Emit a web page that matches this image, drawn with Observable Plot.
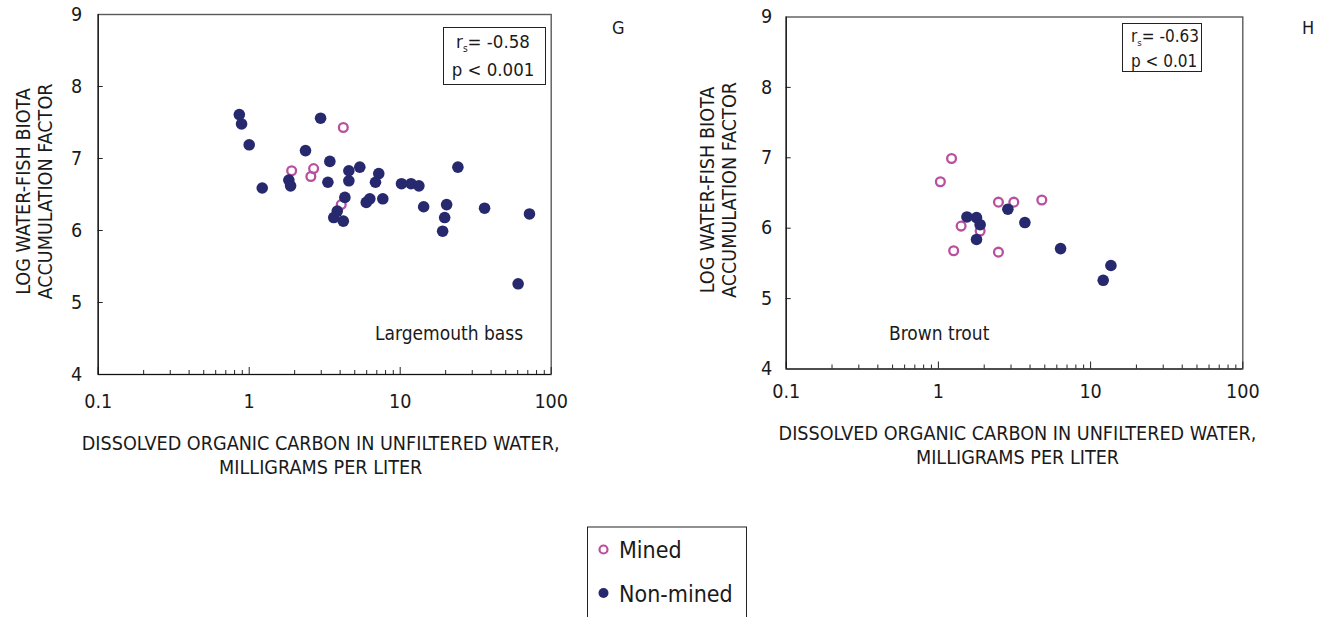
<!DOCTYPE html>
<html><head><meta charset="utf-8">
<script src="https://cdn.jsdelivr.net/npm/d3@7"></script>
<script src="https://cdn.jsdelivr.net/npm/@observablehq/plot@0.6"></script>
<style>
html,body{margin:0;padding:0;background:#fff;}
#wrap{position:relative;width:1324px;height:617px;overflow:hidden;background:#fff;}
.panel{position:absolute;top:0;}
#overlay{position:absolute;left:0;top:0;pointer-events:none;}
</style>
</head><body>
<div id="wrap">
  <div id="left" class="panel" style="left:0"></div>
  <div id="right" class="panel" style="left:662px"></div>
</div>
<script>
const FONT = '"Liberation Sans Narrow","Arial Narrow","DejaVu Sans Condensed",sans-serif';
const NAVY = "#27296f";
const MAGENTA = "#b9509f";

// Panel G — Largemouth bass
const bassNonMinedDOC = [0.86,0.89,1.0,2.97,2.36,1.83,1.88,1.22,3.42,4.57,5.40,7.21,6.86,4.57,3.32,10.2,11.8,13.3,24.1,4.30,3.83,3.63,4.20,5.96,6.29,7.67,14.3,20.3,19.7,19.1,36.2,71.8,60.4];
const bassNonMinedBAF = [7.61,7.48,7.19,7.56,7.11,6.70,6.62,6.59,6.96,6.83,6.88,6.79,6.67,6.69,6.67,6.65,6.65,6.62,6.88,6.46,6.27,6.18,6.13,6.39,6.44,6.44,6.33,6.36,6.18,5.99,6.31,6.23,5.26];
const bassMinedDOC = [4.20,1.91,2.67,2.56,4.07];
const bassMinedBAF = [7.43,6.83,6.86,6.75,6.36];

// Panel H — Brown trout
const troutNonMinedDOC = [1.54,1.78,1.88,1.78,2.86,3.70,6.35,13.6,12.1];
const troutNonMinedBAF = [6.16,6.15,6.05,5.84,6.27,6.08,5.71,5.47,5.26];
const troutMinedDOC = [1.22,1.03,2.48,3.13,4.78,1.41,1.88,1.26,2.48];
const troutMinedBAF = [6.99,6.66,6.37,6.37,6.40,6.03,5.96,5.68,5.66];

const xMajorTicks = [0.1,1,10,100];
const xMinorTicks = [0.2,0.3,0.4,0.5,0.6,0.7,0.8,0.9,2,3,4,5,6,7,8,9,20,30,40,50,60,70,80,90];
const yTicks = [4,5,6,7,8,9];
const yInnerTicks = [5,6,7,8];
const xTitle = "DISSOLVED ORGANIC CARBON IN UNFILTERED WATER,\nMILLIGRAMS PER LITER";
const yTitle = "LOG WATER-FISH BIOTA\nACCUMULATION FACTOR";

const rows = (doc, baf) => doc.map((d, i) => ({doc: d, baf: baf[i]}));

function panel(o) {
  const mined = rows(o.minedDOC, o.minedBAF);
  const non = rows(o.nonDOC, o.nonBAF);
  return Plot.plot({
    width: 662, height: 480,
    marginLeft: o.ml, marginRight: o.mr, marginTop: o.mt, marginBottom: o.mb,
    style: {fontFamily: FONT, fontSize: "19.6px", color: "#1a1a1a", background: "transparent", overflow: "visible"},
    x: {type: "log", domain: [0.1, 100]},
    y: {domain: [4, 9]},
    marks: [
      Plot.frame({stroke: "#5a5a5a", strokeWidth: 1.4}),
      Plot.axisY(yInnerTicks, {tickSize: -5, fill: "none", label: null, stroke: "#222"}),
      Plot.axisY(yTicks, {tickSize: 0, tickPadding: o.padY, label: null, tickFormat: d => String(d), fontSize: 19.6}),
      Plot.axisX(xMajorTicks, {tickSize: -7, fill: "none", label: null, stroke: "#222"}),
      Plot.axisX(xMinorTicks, {tickSize: -4, fill: "none", label: null, stroke: "#222"}),
      Plot.axisX(xMajorTicks, {tickSize: 0, tickPadding: o.padX, label: null, tickFormat: d => String(d), fontSize: 19.6}),
      Plot.ruleX([0.1], {stroke: "#111", strokeWidth: 1.2}),
      Plot.ruleY([4], {stroke: "#111", strokeWidth: 1.2}),
      Plot.text([yTitle], {frameAnchor: "left", rotate: -90, dx: o.yDx, dy: -3, textAnchor: "middle", lineAnchor: "middle", lineHeight: 1.12, fontSize: 19.6, fill: "#1a1a1a"}),
      Plot.text([xTitle], {frameAnchor: "bottom", lineAnchor: "top", dy: o.xDy, dx: o.xDx, lineHeight: 1.25, fontSize: 19.6, fill: "#1a1a1a"}),
      Plot.dot(mined, {x: "doc", y: "baf", r: 4.4, stroke: MAGENTA, strokeWidth: 2.3, fill: "none"}),
      Plot.dot(non, {x: "doc", y: "baf", r: 5.8, fill: NAVY, stroke: "none"})
    ]
  });
}

document.getElementById("left").appendChild(panel({
  minedDOC: bassMinedDOC, minedBAF: bassMinedBAF, nonDOC: bassNonMinedDOC, nonBAF: bassNonMinedBAF,
  ml: 97.7, mr: 111.3, mt: 14, mb: 106, padY: 16, padX: 20, yDx: -64, xDy: 57.7, xDx: -4
}));
document.getElementById("right").appendChild(panel({
  minedDOC: troutMinedDOC, minedBAF: troutMinedBAF, nonDOC: troutNonMinedDOC, nonBAF: troutNonMinedBAF,
  ml: 123.7, mr: 81.7, mt: 16.5, mb: 111.5, padY: 14, padX: 15, yDx: -68, xDy: 53.2, xDx: 3
}));

// Annotations overlay (stat boxes, panel letters, species names, legend)
const ns = "http://www.w3.org/2000/svg";
const ov = document.createElementNS(ns, "svg");
ov.setAttribute("id", "overlay");
ov.setAttribute("width", 1324); ov.setAttribute("height", 617);
ov.style.fontFamily = FONT;
ov.innerHTML = `
  <g fill="#1a1a1a">
    <rect x="443.5" y="27.5" width="102" height="57" fill="#fff" stroke="#222" stroke-width="1"/>
    <text x="493" y="48" font-size="18.5" text-anchor="middle">r<tspan font-size="10" dy="4">s</tspan><tspan dy="-4">= -0.58</tspan></text>
    <text x="493" y="76" font-size="18.5" text-anchor="middle">p &lt; 0.001</text>
    <rect x="1122.5" y="23.5" width="79" height="48" fill="#fff" stroke="#222" stroke-width="1"/>
    <text x="1131" y="41.7" font-size="17">r<tspan font-size="9.5" dy="4">s</tspan><tspan dy="-4">= -0.63</tspan></text>
    <text x="1131" y="66.7" font-size="17">p &lt; 0.01</text>
    <text x="612" y="34" font-size="18">G</text>
    <text x="1302" y="34" font-size="18">H</text>
    <text x="375" y="340" font-size="19">Largemouth bass</text>
    <text x="889" y="340" font-size="19">Brown trout</text>
    <rect x="587.5" y="527" width="159" height="100" fill="#fff" stroke="#222" stroke-width="1"/>
    <circle cx="603.5" cy="549.5" r="4" fill="none" stroke="${MAGENTA}" stroke-width="2.2"/>
    <circle cx="603.5" cy="593" r="5" fill="${NAVY}"/>
    <text x="619" y="558" font-size="23">Mined</text>
    <text x="619" y="602" font-size="23">Non-mined</text>
  </g>`;
document.getElementById("wrap").appendChild(ov);
</script>
</body></html>
